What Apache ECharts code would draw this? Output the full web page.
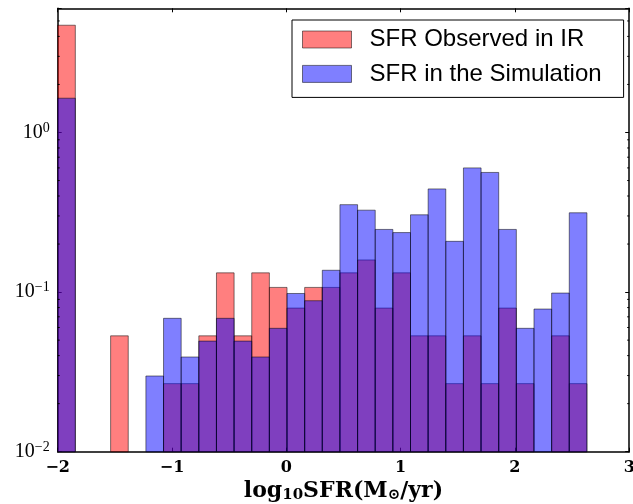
<!DOCTYPE html>
<html>
<head>
<meta charset="utf-8">
<script src="https://cdn.jsdelivr.net/npm/echarts@6/dist/echarts.min.js"></script>
<style>html,body{margin:0;padding:0;background:#fff}#c{width:633px;height:504px}</style>
</head>
<body>
<div id="c"></div>
<script>
// Histogram bins (log10 SFR)
const binMin = -2;
const binWidth = 4.63 / 30;
const binCount = 30;
// Normalized counts per bin
const observedIR = [4.70, 0, 0, 0.0532, 0, 0, 0.0267, 0.0267, 0.0532, 0.132,
  0.0532, 0.132, 0.107, 0.0794, 0.107, 0.107, 0.132, 0.159, 0.0794, 0.132,
  0.0532, 0.0532, 0.0267, 0.0532, 0.0267, 0.0794, 0.0267, 0, 0.0532, 0.0267];
const simulation = [1.64, 0, 0, 0, 0, 0.0298, 0.0685, 0.0392, 0.0493, 0.0685,
  0.0493, 0.0392, 0.0593, 0.098, 0.0883, 0.137, 0.353, 0.326, 0.247, 0.236,
  0.305, 0.443, 0.208, 0.600, 0.562, 0.247, 0.0593, 0.0783, 0.0986, 0.314];
const seriesNames = ['SFR Observed in IR', 'SFR in the Simulation'];
const xTicks = [-2, -1, 0, 1, 2, 3];
const yMin = 0.01, yMax = 6;
const minorTickValues = [];
[0.01, 0.1, 1].forEach(d => { for (let k = 2; k <= 9; k++) { const v = d * k; if (v < yMax) minorTickValues.push(v); } });

function binData(vals) {
  const out = [];
  for (let i = 0; i < binCount; i++) {
    if (vals[i] > 0) out.push([binMin + i * binWidth, binMin + (i + 1) * binWidth, vals[i]]);
  }
  return out;
}
function barRender(fill) {
  return function (params, api) {
    const p0 = api.coord([api.value(0), api.value(2)]);
    const p1 = api.coord([api.value(1), yMin]);
    return {
      type: 'rect',
      shape: { x: p0[0], y: p0[1], width: p1[0] - p0[0], height: p1[1] - p0[1] },
      style: { fill: fill, stroke: 'rgba(0,0,0,0.5)', lineWidth: 1 }
    };
  };
}
const RED = 'rgba(255,0,0,0.5)', BLUE = 'rgba(0,0,255,0.5)';
const serif = "'Liberation Serif', 'Times New Roman', serif";
const dvSerif = "'DejaVu Serif', serif";
const supText = s => s.replace('-', '\u2212');
const frame = { show: true, onZero: false, lineStyle: { color: '#000', width: 1.5 } };
const tick = { show: true, inside: true, length: 4, lineStyle: { color: '#000', width: 1 } };

const chart = echarts.init(document.getElementById('c'), null, { renderer: 'canvas' });
chart.setOption({
  animation: false,
  backgroundColor: '#fff',
  grid: { left: 57.7, right: 3.8, top: 8.3, bottom: 52.3, containLabel: false, outerBoundsMode: 'none' },
  legend: {
    left: 292, top: 20, orient: 'vertical',
    itemWidth: 49, itemHeight: 17, itemGap: 10.4,
    padding: [7.5, 22, 11.5, 10],
    borderColor: '#000', borderWidth: 1, backgroundColor: '#fff',
    icon: 'rect',
    textStyle: { fontFamily: "'Liberation Sans', Arial, sans-serif", fontSize: 24, color: '#000', padding: [0, 0, 0, 13] },
    data: [
      { name: seriesNames[0], itemStyle: { color: RED, borderColor: 'rgba(0,0,0,0.5)', borderWidth: 1 } },
      { name: seriesNames[1], itemStyle: { color: BLUE, borderColor: 'rgba(0,0,0,0.5)', borderWidth: 1 } }
    ]
  },
  xAxis: [{
    type: 'value', min: xTicks[0], max: xTicks[xTicks.length - 1], interval: 1,
    axisLine: frame, axisTick: tick,
    splitLine: { show: false },
    axisLabel: { margin: 8, color: '#000', fontFamily: dvSerif, fontWeight: 'bold', fontSize: 16, formatter: v => supText(String(v)) },
    name: '{a|log}{s|10}{a|SFR(M}{s|\u2299}{a|/yr)}',
    nameLocation: 'middle', nameGap: 25,
    nameTextStyle: {
      rich: {
        a: { fontFamily: dvSerif, fontWeight: 'bold', fontSize: 22, color: '#000' },
        s: { fontFamily: dvSerif, fontWeight: 'bold', fontSize: 15, color: '#000', padding: [8, 0, 0, 0] }
      }
    }
  }, {
    type: 'value', position: 'top', min: xTicks[0], max: xTicks[xTicks.length - 1], interval: 1,
    axisLine: frame, axisTick: tick,
    axisLabel: { show: false }, splitLine: { show: false }
  }],
  yAxis: [{
    type: 'log', logBase: 10, min: yMin, max: yMax,
    axisLine: frame, axisTick: tick,
    splitLine: { show: false },
    axisLabel: {
      margin: 8, color: '#000',
      formatter: v => {
        const e = Math.round(Math.log10(v));
        if (Math.abs(Math.log10(v) - e) > 1e-6) return '';
        return '{b|10}{s|' + supText(String(e)) + '}';
      },
      rich: {
        b: { fontFamily: serif, fontSize: 20, color: '#000' },
        s: { fontFamily: serif, fontSize: 14, color: '#000', padding: [0, 0, 9, 0] }
      }
    }
  }, {
    type: 'log', logBase: 10, min: yMin, max: yMax, position: 'right',
    axisLine: frame, axisTick: tick,
    splitLine: { show: false }, axisLabel: { show: false }
  }],
  series: [{
    name: seriesNames[0], type: 'custom', xAxisIndex: 0, yAxisIndex: 0,
    renderItem: barRender(RED), encode: { x: [0, 1], y: 2 },
    itemStyle: { color: RED },
    data: binData(observedIR), z: 2
  }, {
    name: seriesNames[1], type: 'custom', xAxisIndex: 0, yAxisIndex: 0,
    renderItem: barRender(BLUE), encode: { x: [0, 1], y: 2 },
    itemStyle: { color: BLUE },
    data: binData(simulation), z: 3
  }, {
    type: 'custom', xAxisIndex: 0, yAxisIndex: 0, silent: true, z: 4,
    encode: { y: 0 },
    renderItem: function (params, api) {
      const pl = api.coord([xTicks[0], api.value(0)]);
      const pr = api.coord([xTicks[xTicks.length - 1], api.value(0)]);
      return {
        type: 'group', children: [
          { type: 'line', shape: { x1: pl[0], y1: pl[1], x2: pl[0] + 2, y2: pl[1] }, style: { stroke: '#000', lineWidth: 1 } },
          { type: 'line', shape: { x1: pr[0], y1: pr[1], x2: pr[0] - 2, y2: pr[1] }, style: { stroke: '#000', lineWidth: 1 } }
        ]
      };
    },
    data: minorTickValues.map(v => [v])
  }]
});
</script>
</body>
</html>
